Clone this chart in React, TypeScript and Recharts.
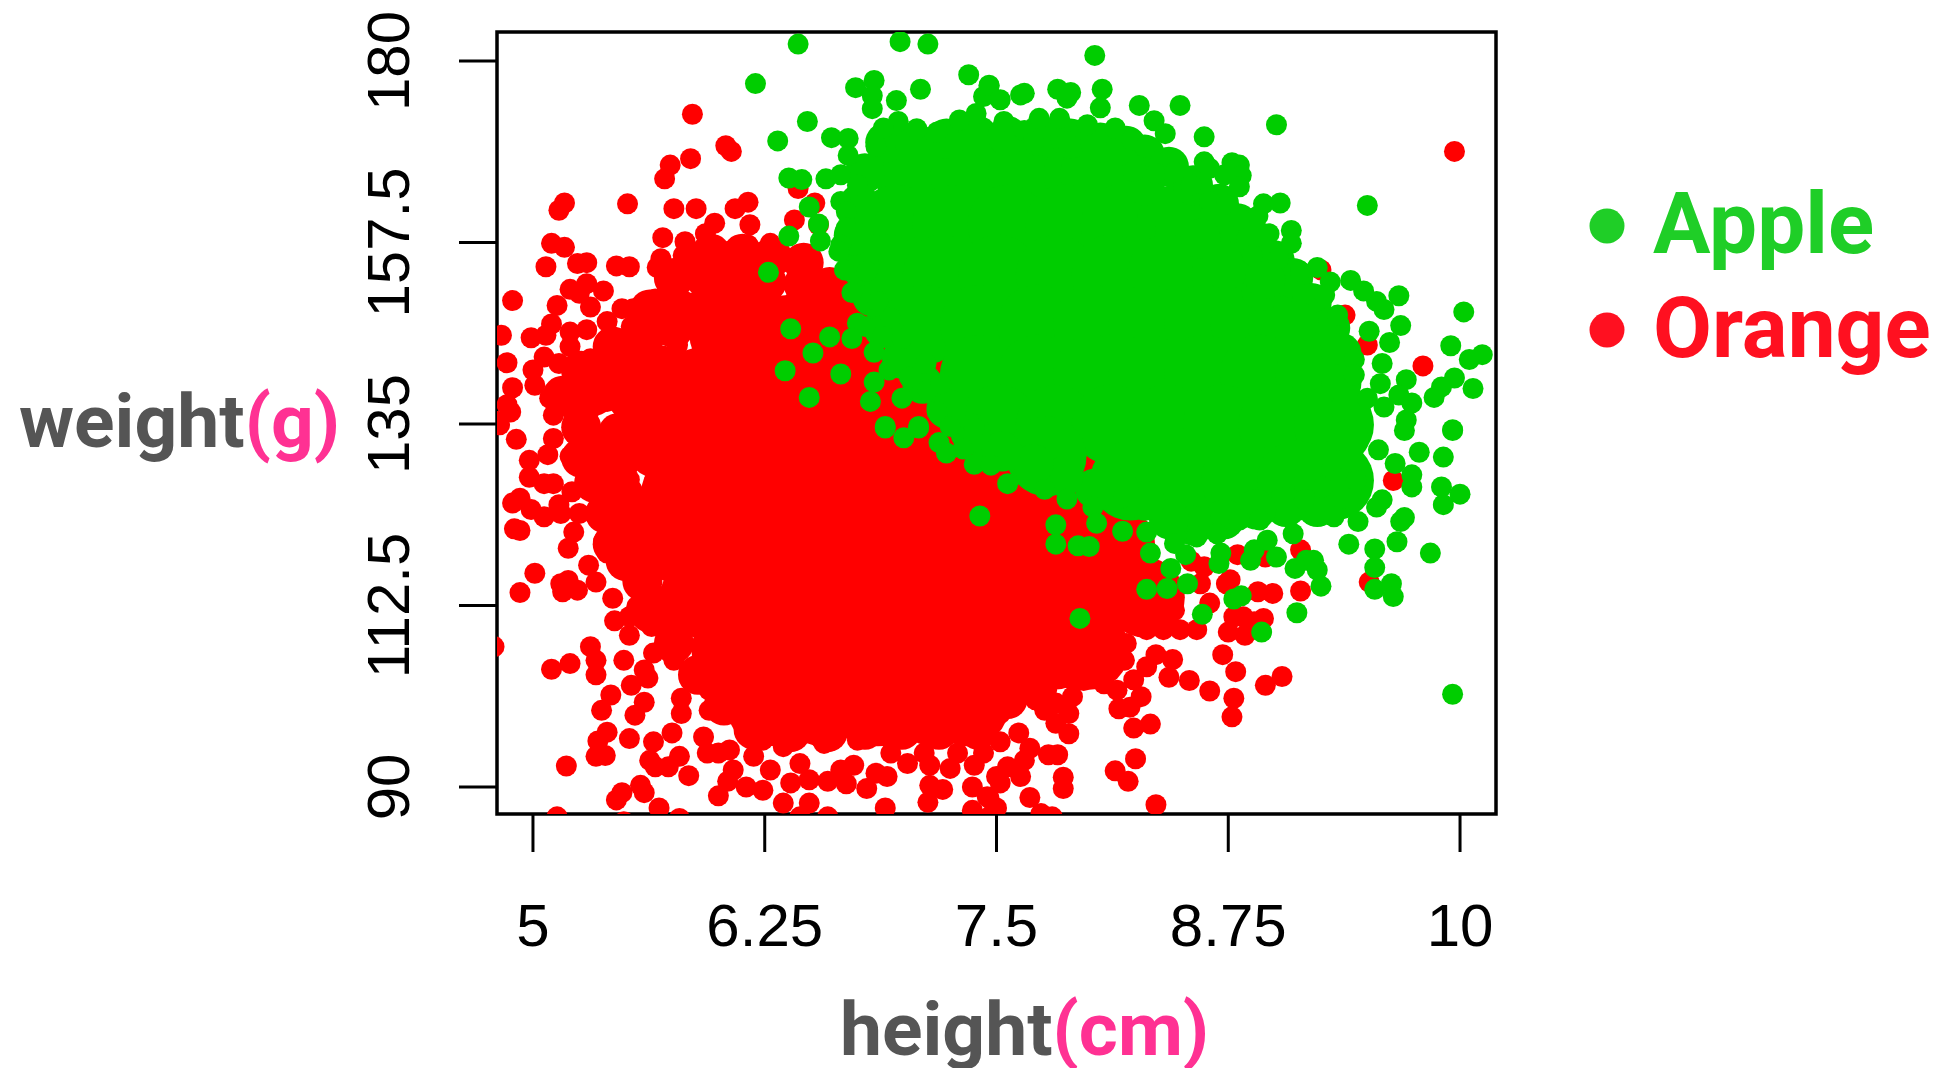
import { ScatterChart, Scatter, XAxis, YAxis, ReferenceArea } from "recharts";

type Pair = [number, number];

const X_TICKS = [5, 6.25, 7.5, 8.75, 10];
const Y_TICKS = [90, 112.5, 135, 157.5, 180];
const X_DOMAIN: Pair = [4.806, 10.194];
const Y_DOMAIN: Pair = [86.65, 183.6];

const LEGEND_ITEMS = ["Apple", "Orange"];

// solid middle of each cloud, where single dots can't be told apart
const orangeCore: Pair[] = [
  [6.06, 146], [6.36, 146], [6.66, 146], [6.96, 146],
  [5.6, 139.5], [5.9, 139.5], [6.21, 139.5], [6.51, 139.5], [6.81, 139.5], [7.11, 139.5],
  [5.7, 133], [6.01, 133], [6.31, 133], [6.61, 133], [6.91, 133], [7.21, 133], [7.51, 133],
  [5.8, 126.5], [6.11, 126.5], [6.41, 126.5], [6.71, 126.5], [7.01, 126.5], [7.31, 126.5], [7.61, 126.5], [7.91, 126.5],
  [5.8, 120], [6.11, 120], [6.41, 120], [6.71, 120], [7.01, 120], [7.31, 120], [7.61, 120], [7.91, 120], [8.14, 120],
  [5.9, 113.5], [6.21, 113.5], [6.51, 113.5], [6.81, 113.5], [7.11, 113.5], [7.41, 113.5], [7.71, 113.5], [8.02, 113.5], [8.3, 113.5],
  [6.07, 107], [6.36, 107], [6.66, 107], [6.96, 107], [7.26, 107], [7.56, 107], [7.81, 107], [8, 107],
  [6.26, 100], [6.56, 100], [6.86, 100], [7.16, 100], [7.35, 100],
];

// thick band between the core and the single dots
const orangeBand: Pair[] = [
  [5.96, 156.1], [6.13, 156.1], [6.29, 155.7], [6.46, 155], [5.76, 153.1], [5.93, 153.1],
  [6.09, 153.1], [6.26, 152.6], [6.46, 152.3], [5.63, 149.2], [5.79, 149.2], [5.43, 144.6],
  [5.59, 144.6], [5.26, 141.6], [5.43, 141.6], [5.16, 138.5], [5.33, 138.5], [5.26, 134.6],
  [5.39, 132.3], [5.26, 130.8], [5.33, 127.7], [5.49, 126.2], [5.39, 123.9], [5.56, 120.1],
  [5.43, 120.1], [5.59, 115.5], [5.63, 111.6], [5.76, 107.8], [5.89, 103.9], [6.03, 100.1],
  [6.19, 97.1], [6.39, 96.8], [6.59, 96.8], [6.79, 97.1], [6.99, 97.1], [7.19, 97.1],
  [7.4, 97.1], [7.56, 100.9], [7.73, 103.2], [7.9, 104.7],
  [5.76, 146.9], [5.69, 142.3], [5.46, 130], [5.46, 133.9], [5.53, 123.9], [5.5, 118],
  [5.65, 147], [5.9, 149], [6.05, 150], [6.2, 149.5], [6.45, 149.5], [6.6, 152], [6.7, 149],
];

const orangeDots: Pair[] = [
  [5.86, 173.4], [6.04, 169.5], [6.07, 168.8], [5.85, 167.9], [5.74, 167.1], [5.71, 165.4],
  [5.17, 162.4], [5.14, 161.5], [5.51, 162.3], [5.76, 161.7], [5.88, 161.7], [6.16, 162.5],
  [6.09, 161.7], [6.43, 164.2], [6.52, 162.4], [6.41, 160.3], [6.54, 159.7], [6.17, 159.7],
  [5.98, 159.9], [5.93, 158.6], [5.7, 158.1], [5.82, 157.6], [5.1, 157.4], [5.17, 156.9],
  [6.05, 156.4], [6.16, 157.2], [6.28, 157.4], [5.93, 155.9], [5.81, 155.9], [5.69, 155.5],
  [5.67, 154.4], [5.07, 154.5], [5.24, 154.9], [5.29, 155], [5.45, 154.6], [5.52, 154.5],
  [5.83, 154.5], [6.03, 153.7], [6.53, 153.1], [6.44, 155.9], [5.79, 152.3], [5.2, 151.7],
  [5.29, 152.4], [5.38, 151.5], [5.25, 151.2], [4.89, 150.3], [5.13, 149.7], [5.31, 149.5],
  [5.66, 150.5], [5.48, 149.3], [5.54, 149.3], [5.4, 147.7], [5.1, 147.4], [5.63, 147.9],
  [5.74, 148.6], [4.83, 146], [4.99, 145.7], [5.07, 146], [5.2, 146.4], [5.29, 146.7],
  [5.47, 145.2], [5.53, 147.1], [5.2, 144.6], [4.86, 142.6], [5, 141.7], [5.06, 143.3],
  [5.01, 139.8], [4.89, 139.5], [4.86, 137.4], [4.88, 136.5], [4.81, 135.3], [5.09, 138.2],
  [5.17, 138.8], [5.11, 136.1], [5.22, 141.9], [5.14, 142.5], [5.24, 139], [5.31, 143.1],
  [5.41, 143.1], [5.31, 140.7], [5.26, 137.8], [5.22, 136.1],
  [5.56, 145.2], [5.67, 146], [5.78, 144.8], [5.49, 143.1], [5.6, 142.3], [5.7, 142.7],
  [5.81, 142.3], [5.4, 140.7], [5.51, 139.8], [5.61, 139.8], [5.4, 137.8], [5.51, 137.4],
  [5.61, 137.4], [5.72, 136.9], [5.31, 136.9],
  [4.82, 134.9], [4.91, 133.1], [5.11, 133.2], [4.98, 130.5], [5.08, 131.2], [4.98, 128.4],
  [5.06, 127.6], [5.11, 127.6], [5.21, 126.6], [5.2, 131], [4.89, 125.2], [4.93, 125.8],
  [4.99, 124.4], [5.06, 123.5], [5.15, 123.9], [5.14, 125], [4.9, 122], [4.93, 121.8],
  [5.25, 123.9], [5.36, 123.3], [5.22, 121.6], [5.19, 119.6], [5.38, 120.4], [5.46, 122.3],
  [5.31, 127.2], [5.41, 126], [5.4, 119], [5.5, 117.1], [5.3, 117.5], [5.01, 116.5],
  [4.93, 114.1], [5.15, 115.2], [5.16, 114.2], [5.19, 115.6], [5.24, 114.4], [5.34, 115.4],
  [5.43, 113.4], [5.44, 110.6], [5.52, 108.8], [5.56, 112.4], [5.52, 111.1], [5.64, 109.9],
  [4.79, 107.4], [5.31, 107.4], [5.34, 105.7], [5.2, 105.3], [5.1, 104.6], [5.34, 103.9],
  [5.49, 105.7], [5.6, 104.5], [5.62, 103.5], [5.53, 102.6], [5.65, 106.6], [5.42, 101.4],
  [5.37, 99.5], [5.6, 100.5], [5.55, 98.9], [5.8, 101], [5.8, 99.1], [5.4, 96.8],
  [5.35, 95.7], [5.52, 96], [5.34, 93.8], [5.39, 93.9], [5.18, 92.6], [5.65, 95.6],
  [5.75, 96.7], [5.63, 93.3], [5.79, 93.8], [5.73, 92.5], [5.66, 92.5], [5.84, 91.4],
  [5.94, 94.2], [6.06, 94.6], [6, 94.2], [5.92, 96.2], [6.05, 90.7], [5.58, 90.2],
  [5.48, 89.3], [5.45, 88.4], [5.6, 89.3], [5.68, 87.4], [5.13, 86.3], [5.79, 86.1],
  [5.49, 85.7], [6, 88.9], [6.15, 90], [6.24, 89.6], [6.19, 93.8], [6.08, 92.1],
  [6.28, 92.1], [6.35, 88], [6.49, 88], [6.59, 86.3], [6.44, 86.3], [6.39, 90.5],
  [6.49, 90.9], [6.59, 90.7], [6.69, 90.4], [6.66, 92.1], [6.73, 92.7], [6.8, 89.8],
  [6.91, 91.3], [6.85, 91.7], [6.9, 87.4], [7.02, 92.9], [7.14, 92.7], [7.25, 92.3],
  [7.38, 92.7], [7.14, 90.2], [7.21, 89.7], [7.13, 88.1], [7.37, 90], [7.37, 87.1],
  [7.45, 88.8], [7.46, 86.3], [7.5, 91.3],
  [5.27, 133], [5.38, 133.4], [5.49, 133], [5.6, 133.4], [5.7, 133], [5.23, 130.1],
  [5.34, 130.5], [5.45, 130.1], [5.56, 130.9], [5.69, 129.7], [5.4, 128.5], [5.52, 128.1],
  [5.61, 126], [5.63, 123.5], [5.52, 120.6], [5.61, 120.2], [5.61, 117.7], [5.61, 114.8],
  [5.69, 113.6], [5.7, 110.7], [5.78, 108.2], [5.76, 105.7], [5.85, 103.7], [5.95, 102],
  [5.95, 99.5], [6.03, 100.4], [6.17, 99.1], [6.24, 95.8], [6.35, 95], [6.57, 95.4],
  [6.75, 95.8], [6.93, 94.2], [7.11, 94.2], [7.29, 94.2], [7.43, 94.2], [6.44, 92.9],
  [7.46, 88.6], [7.5, 87.4], [7.68, 88.7], [7.86, 91.2], [7.86, 89.8], [7.74, 86.7],
  [7.8, 86.3], [7.52, 90.5], [7.63, 91.3], [7.56, 92.5], [7.65, 93.3], [7.78, 94],
  [7.83, 94], [7.68, 94.8], [7.62, 96.7], [7.52, 95.6], [7.89, 96.6], [7.82, 97.9],
  [7.71, 100.8], [7.76, 99.5], [7.89, 99.1], [8.16, 99.7], [8.24, 97.3], [8.33, 97.8],
  [8.28, 101.2], [8.14, 92], [8.25, 93.5], [8.21, 90.7], [8.36, 87.8], [8.77, 98.7],
  [8.78, 101], [8.65, 101.9], [8.54, 103.2], [8.43, 103.6], [8.95, 102.6], [9.04, 103.7],
  [8.79, 104.3], [8.72, 106.4], [8.36, 106.4], [8.45, 105.8], [8.2, 107.8], [8.31, 104.9],
  [8.08, 102.8], [7.97, 103.2], [7.88, 104.1], [7.57, 102.8], [7.78, 105.7], [7.91, 108.6],
  [8.13, 109.9], [8.31, 109.5], [8.4, 109.5], [8.49, 109.5], [8.58, 109.5], [8.75, 109.2],
  [8.84, 108.8], [8.94, 110.9], [8.89, 110.5], [8.78, 111.1], [8.83, 111.1], [8.65, 112.8],
  [8.46, 111.9], [8.99, 114], [8.91, 114.2], [8.76, 115.7], [8.74, 115.2], [9.14, 114.3],
  [9.14, 119.4], [8.95, 118.5], [8.8, 118.8], [9.51, 115.4], [9.35, 125.8], [9.64, 128],
  [8.6, 115.2], [8.62, 117.3], [8.55, 118],
  [7.52, 99.1], [7.46, 97.5], [7.65, 106.6], [8, 112.4], [8.19, 112.4], [8.33, 112.4],
  [8, 108.6], [8.1, 106.6], [8.19, 105.7], [7.99, 105.7], [7.77, 102], [7.91, 101.2],
  [7.82, 100.4], [8.15, 102], [8.24, 103.3], [8.22, 99.9],
  [9.97, 168.8], [9.8, 142.2], [9.25, 154.1], [9.2, 148.6], [9.38, 148.5], [9.47, 135.7],
  [9.5, 144.8],
];

const appleCore: Pair[] = [
  [7.06, 165.9], [7.36, 165.9], [7.67, 165.9], [7.97, 165.9], [8.06, 165.9],
  [6.96, 159.7], [7.26, 159.7], [7.56, 159.7], [7.87, 159.7], [8.17, 159.7], [8.47, 159.7], [8.57, 159.7],
  [6.91, 153.5], [7.21, 153.5], [7.51, 153.5], [7.82, 153.5], [8.12, 153.5], [8.42, 153.5], [8.77, 153.5],
  [7.11, 147.3], [7.41, 147.3], [7.72, 147.3], [8.02, 147.3], [8.32, 147.3], [8.62, 147.3], [8.87, 147.3], [9.07, 147.3],
  [7.41, 141.1], [7.72, 141.1], [8.02, 141.1], [8.32, 141.1], [8.62, 141.1], [8.92, 141.1], [9.22, 141.1],
  [7.51, 134.9], [7.82, 134.9], [8.12, 134.9], [8.42, 134.9], [8.72, 134.9], [9.02, 134.9], [9.32, 134.9],
  [7.77, 131], [8.22, 128], [8.52, 128], [8.82, 128], [9.12, 128], [9.32, 128],
];

const appleBand: Pair[] = [
  [6.9, 169.9], [7.06, 169.9], [7.23, 170.4], [7.4, 170.7], [7.56, 170.7], [7.73, 170.7],
  [7.9, 170.4], [8.06, 169.9], [8.2, 169.5], [8.3, 168.4], [8.43, 166.9], [8.56, 164.6],
  [8.7, 162.3], [8.8, 159.9], [8.9, 157.7], [9, 155.3], [9.1, 153.1], [9.2, 150],
  [9.3, 146.9], [9.36, 143.8], [9.36, 140], [9.41, 136.9], [9.4, 133.1], [9.36, 129.3],
  [9.36, 127], [9.23, 124.7], [9.06, 124.7], [8.9, 124.4], [8.73, 123.2], [8.56, 122.4],
  [8.43, 123.2], [8.3, 125.5], [8.16, 127], [8.03, 127], [7.86, 128.5], [7.7, 130],
  [7.53, 131.6], [7.36, 133.9], [7.23, 136.9], [7.1, 140], [6.99, 143.1], [6.89, 146.9],
  [6.83, 150.8], [6.76, 154.6], [6.73, 158.4], [6.76, 162.3], [6.79, 166.1],
  [8.3, 164.6], [8.93, 151.5], [9.13, 147.7], [8.6, 158], [8.95, 153],
];

const appleDots: Pair[] = [
  [6.43, 182.1], [6.98, 182.4], [7.13, 182.1], [6.2, 177.2], [7.35, 178.3], [7.46, 176.9],
  [6.84, 177.6], [6.74, 176.7], [6.83, 175.7], [6.83, 174.1], [6.96, 175.1], [7.09, 176.5],
  [6.48, 172.5], [6.32, 170.1], [6.61, 170.5], [6.7, 170.4], [6.7, 168.3], [7.43, 175.6],
  [7.39, 173.5], [7.3, 172.7], [6.97, 172.5], [6.89, 171.7], [7.07, 171.6], [7.18, 171.2],
  [6.85, 169.4], [6.38, 165.5], [6.45, 165.3], [6.58, 165.4], [6.66, 165.9], [6.75, 164.6],
  [6.49, 161.9], [6.66, 162.6], [6.69, 161.3], [6.54, 159.8], [6.55, 157.7], [6.38, 158.3],
  [6.69, 159.3], [6.66, 157.2], [6.65, 156.4], [6.68, 154.1], [6.8, 153.9], [6.72, 151.3],
  [6.86, 150.2], [6.93, 148.1], [6.75, 147.5], [6.79, 147.1], [6.72, 145.6], [6.27, 153.8],
  [6.39, 146.8], [6.6, 145.8], [6.51, 143.8], [6.36, 141.6], [6.66, 141.2], [6.49, 138.3],
  [6.84, 143.9], [6.99, 145.6], [6.92, 141.7], [6.84, 140.2], [7.03, 140.8], [6.99, 138.2],
  [6.82, 137.8], [7.13, 139.2], [7.2, 140], [7.12, 142.5], [7.18, 136.5], [6.9, 134.7],
  [7.08, 134.7], [6.9, 134.5], [7, 133.3], [7.08, 134.5], [7.19, 132.7], [7.23, 131.4],
  [7.32, 131.9], [7.38, 130], [7.47, 129.9], [7.41, 123.6], [7.25, 134.7], [7.38, 134.5],
  [7.82, 122.5], [7.82, 120.1], [7.94, 119.9], [8, 119.8], [7.95, 110.9], [7.56, 127.6],
  [7.76, 126.9], [7.88, 125.7], [8.02, 124.7], [8.04, 122.7], [8.18, 121.7], [8.31, 121.6],
  [8.33, 119], [8.44, 117.1], [8.42, 114.6], [8.31, 114.5], [8.53, 115.2], [8.61, 111.4],
  [8.7, 117.7], [8.71, 119], [8.52, 118.8], [8.46, 120.2], [8.58, 121], [8.69, 121.4],
  [8.78, 113.3], [8.82, 113.7], [8.93, 109.2], [9.12, 111.6], [8.87, 118.1], [8.89, 119.4],
  [9.01, 118.5], [8.96, 120.6], [9.1, 121.4], [8.81, 123.1], [8.92, 123.1], [9.11, 117.1],
  [9.17, 118.1], [9.21, 118.1], [9.23, 116.9], [9.25, 114.9], [9.32, 123.5], [9.4, 120.1],
  [9.45, 122.9], [9.54, 119.5], [9.54, 117.2], [9.54, 114.5], [9.63, 115.2], [9.64, 113.6],
  [9.66, 120.4], [9.68, 122.9], [9.7, 123.4], [9.84, 119], [9.96, 101.5], [9.91, 125],
  [9.9, 127.2], [10, 126.3], [9.74, 127.2], [9.74, 128.7], [9.78, 131.5], [9.91, 130.9],
  [9.96, 134.2], [9.7, 134.2], [9.65, 130.1], [9.56, 131.8], [9.58, 125.6], [9.55, 124.7],
  [9.44, 128], [9.26, 127.2], [9.16, 125.6],
  [8.03, 180.7], [8.07, 176.5], [8.06, 174.2], [7.65, 176], [7.63, 175.8], [7.83, 176.5],
  [7.9, 176.1], [7.88, 175.4], [8.27, 174.5], [8.49, 174.5], [8.35, 172.6], [8.41, 171],
  [8.62, 170.6], [9.01, 172.1], [8.62, 167.5], [8.65, 166.7], [8.77, 167.4], [8.81, 167.1],
  [8.82, 165.8], [8.81, 164.4], [8.73, 165.9], [9.5, 162.1], [8.94, 162.3], [9.03, 162.4],
  [8.91, 160.8], [8.97, 158.6], [9.09, 159], [9.09, 157.4], [9.23, 154.4], [9.14, 153.9],
  [9.3, 152.6], [9.27, 151], [9.41, 152.8], [9.48, 151.5], [9.55, 150.2], [9.59, 149.2],
  [9.67, 150.9], [10.02, 148.9], [9.68, 147.2], [9.62, 145.1], [9.51, 146.5], [9.34, 148.5],
  [9.95, 144.7], [10.12, 143.6], [10.05, 143], [9.97, 140.7], [9.9, 139.6], [9.86, 138.3],
  [10.07, 139.4], [9.71, 140.5], [9.67, 138.6], [9.74, 137.6], [9.59, 137.1], [9.57, 140],
  [9.58, 142.5], [9.71, 135.5], [9.96, 134.3], [9.5, 138.2], [9.43, 143], [9.43, 141.1],
  [7.73, 172.9], [7.84, 172.9], [7.99, 172.1], [8.14, 171.7], [8.23, 170.2], [8.3, 169.3],
  [7.65, 171.4], [7.88, 170], [8.24, 166.3], [8.36, 166.1], [8.46, 166.2], [8.55, 164.6],
  [8.65, 162.6], [8.74, 162.2], [8.81, 160.5], [8.88, 155.9], [9.02, 155.5], [7.46, 177],
  [7.52, 175.2], [7.54, 172.5], [7.7, 170],
];

const RED = "#ff0000";
const GREEN = "#00cd00";

const toRows = (pairs: Pair[]) => pairs.map(([x, y]) => ({ x, y }));

const dot = (r: number, fill: string) => (props: any) =>
  <circle cx={props.cx} cy={props.cy} r={r} fill={fill} />;

function XTick({ x, payload }: any) {
  return (
    <text x={x} y={946} textAnchor="middle" fontSize={60} fontFamily="Liberation Sans" fill="#000">
      {payload.value}
    </text>
  );
}

function YTick({ y, payload }: any) {
  return (
    <text
      transform={`translate(409 ${y}) rotate(-90)`}
      textAnchor="middle"
      fontSize={60}
      fontFamily="Liberation Sans"
      fill="#000"
    >
      {payload.value}
    </text>
  );
}

export default function App() {
  return (
    <div style={{ position: "absolute", left: 0, top: 0, width: 1940, height: 1068, background: "#fff" }}>
      <ScatterChart width={1940} height={1068} margin={{ top: 32, right: 444, bottom: 114, left: 377 }}>
        <XAxis
          type="number"
          dataKey="x"
          domain={X_DOMAIN}
          ticks={X_TICKS}
          interval={0}
          allowDataOverflow
          height={140}
          axisLine={false}
          tickSize={38}
          tickLine={{ stroke: "#000", strokeWidth: 3 }}
          tick={<XTick />}
        />
        <YAxis
          type="number"
          dataKey="y"
          domain={Y_DOMAIN}
          ticks={Y_TICKS}
          interval={0}
          allowDataOverflow
          width={120}
          axisLine={false}
          tickSize={38}
          tickLine={{ stroke: "#000", strokeWidth: 3 }}
          tick={<YTick />}
        />
        <Scatter data={toRows(orangeCore)} shape={dot(40, RED)} isAnimationActive={false} />
        <Scatter data={toRows(orangeBand)} shape={dot(20, RED)} isAnimationActive={false} />
        <Scatter data={toRows(orangeDots)} shape={dot(10.5, RED)} isAnimationActive={false} />
        <Scatter data={toRows(appleCore)} shape={dot(40, GREEN)} isAnimationActive={false} />
        <Scatter data={toRows(appleBand)} shape={dot(20, GREEN)} isAnimationActive={false} />
        <Scatter data={toRows(appleDots)} shape={dot(10.5, GREEN)} isAnimationActive={false} />
        <ReferenceArea
          x1={X_DOMAIN[0]}
          x2={X_DOMAIN[1]}
          y1={Y_DOMAIN[0]}
          y2={Y_DOMAIN[1]}
          fill="none"
          stroke="#000"
          strokeWidth={3.5}
        />
      </ScatterChart>
      <svg
        width={1940}
        height={1068}
        style={{ position: "absolute", left: 0, top: 0, pointerEvents: "none" }}
        fontFamily="Roboto"
        fontWeight={700}
      >
        <text x={19} y={447} fontSize={75} fill="#555555">
          weight<tspan fill="#ff3193">(g)</tspan>
        </text>
        <text x={840} y={1055} fontSize={75} fill="#555555">
          height<tspan fill="#ff3193">(cm)</tspan>
        </text>
        <circle cx={1607} cy={226} r={17.5} fill="#1fce27" />
        <text x={1653} y={253} fontSize={85.5} fill="#1fce27">{LEGEND_ITEMS[0]}</text>
        <circle cx={1607} cy={330} r={17.5} fill="#ff1020" />
        <text x={1653} y={357} fontSize={85.5} fill="#ff1020">{LEGEND_ITEMS[1]}</text>
      </svg>
    </div>
  );
}
